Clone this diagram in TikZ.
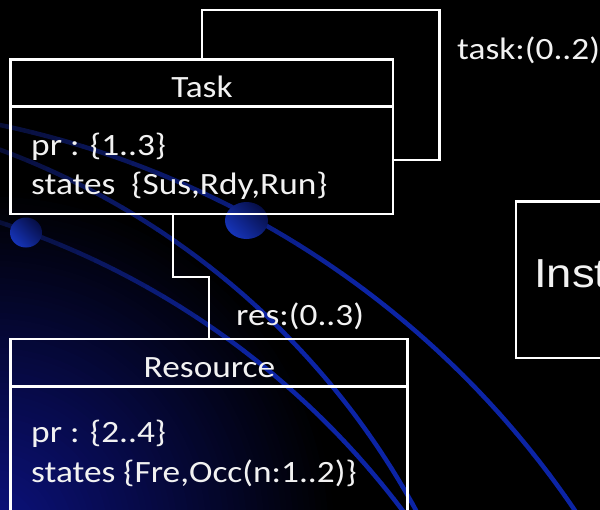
\documentclass[tikz,border=0pt]{standalone}
\usepackage{fontspec}
\setmainfont{Carlito}[FakeStretch=1.14]
\newfontfamily\instfont{Liberation Sans}[FakeStretch=1.12]

\definecolor{txtwhite}{RGB}{242,242,242}
\definecolor{glowin}{RGB}{12,18,130}
\definecolor{arcdark}{RGB}{8,13,48}
\definecolor{arcbright}{RGB}{12,36,165}
\definecolor{balldark}{RGB}{6,14,70}
\definecolor{ballbright}{RGB}{22,52,185}

\tikzset{
  umlbox/.style={draw=white, line width=2.5pt, inner sep=0pt, outer sep=0pt},
  wire/.style={draw=white, line width=2.5pt},
  lbl/.style={text=txtwhite, inner sep=0pt, font=\fontsize{31pt}{37pt}\selectfont},
  arcline/.style={line width=4.5pt, line cap=round},
  ballshade/.style={left color=balldark, right color=ballbright, shading angle=-45},
}

\begin{document}
\begin{tikzpicture}[x=1pt, y=-1pt]
\useasboundingbox (0,0) rectangle (600,509);
% black slide, a little larger than the page so no edge stays unpainted
\fill[black] (-6,-6) rectangle (606,515);
\begin{scope}
\clip (-6,-6) rectangle (606,515);

% blue glow in the lower left corner, built from concentric discs
\foreach \k in {0,...,59}{
  \pgfmathsetmacro\rr{350-\k*5.8}
  \pgfmathtruncatemacro\gm{100*(1-\rr/350)}
  \fill[glowin!\gm!black] (-10,535) circle[radius=\rr pt];
}

% decorative orbits, darker towards their upper ends
\foreach \cx/\cy/\rad/\ta/\tb in {-189.6/1029.3/924/81/32,
                                  -273.5/885.5/785/72/26,
                                  -258.5/1009/828/74/34}{
  \foreach \i in {0,...,29}{
    \pgfmathsetmacro\sa{\ta-(\ta-\tb)*\i/30}
    \pgfmathsetmacro\sb{\ta-(\ta-\tb)*(\i+1)/30}
    \pgfmathtruncatemacro\mx{min(100,\i*6)}
    \draw[arcline, draw=arcbright!\mx!arcdark]
      plot[domain=\sa:\sb, samples=4] ({\cx+\rad*cos(\x)},{\cy-\rad*sin(\x)});
  }
}

% orbit beads
\shade[ballshade] (246.5,220.5) ellipse[x radius=21.5pt, y radius=18.5pt];
\shade[ballshade] (26,232.5) ellipse[x radius=16pt, y radius=15pt];

% class Task
\node[umlbox, minimum width=382.5pt, minimum height=47pt, anchor=north west]
  (taskhead) at (10.5,59.5) {};
\node[umlbox, minimum width=382.5pt, minimum height=107.5pt, anchor=north west]
  (taskbody) at (taskhead.south west) {};
\node[lbl, anchor=base] (tasktitle) at (202,97) {Task};
\node[lbl, anchor=base west] (taskpr) at (31,155) {pr : \{1..3\}};
\node[lbl, anchor=base west] (taskst) at (31,194) {states\ \ \{Sus,Rdy,Run\}};

% class Resource
\node[umlbox, minimum width=397pt, minimum height=47.5pt, anchor=north west]
  (reshead) at (10.5,339) {};
\node[umlbox, minimum width=397pt, minimum height=180pt, anchor=north west]
  (resbody) at (reshead.south west) {};
\node[lbl, anchor=base] (restitle) at (209.5,377) {Resource};
\node[lbl, anchor=base west] (respr) at (31,442) {pr : \{2..4\}};
\node[lbl, anchor=base west] (resst) at (31,482) {states \{Fre,Occ(n:1..2)\}};

% instance box on the right
\node[umlbox, minimum width=140pt, minimum height=156.5pt, anchor=north west]
  (inst) at (516,201.5) {};
\node[text=txtwhite, inner sep=0pt, anchor=base west,
      font=\instfont\fontsize{40.5pt}{48pt}\selectfont] (insttext) at (534,287) {Inst};

% self association of Task
\coordinate (selfcorner) at (439.5,10);
\coordinate (selfend) at (439.5,160);
\draw[wire] (taskhead.north) |- (selfcorner) -- (selfend) -- (selfend -| taskbody.east);
\node[lbl, anchor=base west] (tasklbl) at (457,59) {task:(0..2)};

% association Task -- Resource
\coordinate (bend) at (173,277);
\draw[wire] (taskbody.south -| bend) -- (bend) -| (reshead.north);
\node[lbl, anchor=base west] (reslbl) at (236,325) {res:(0..3)};
\end{scope}
\end{tikzpicture}
\end{document}
